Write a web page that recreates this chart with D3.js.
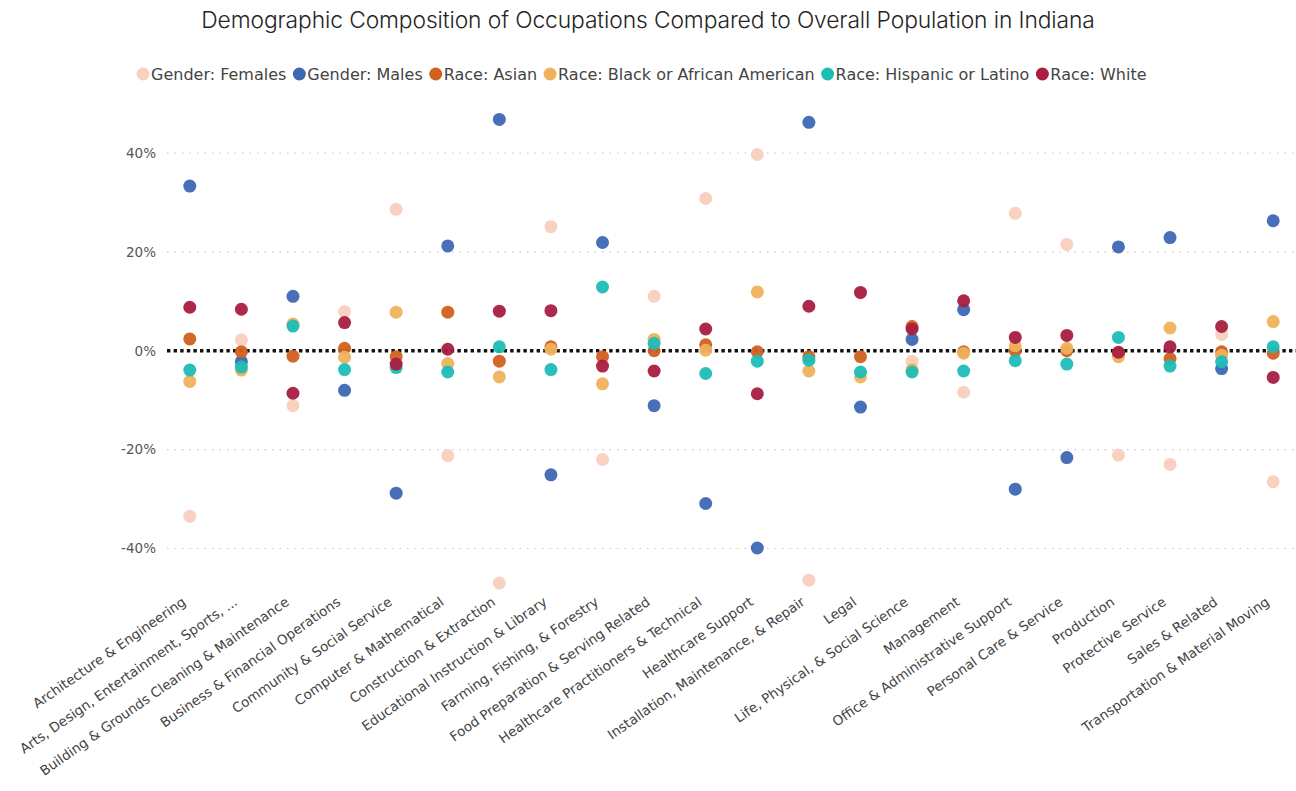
<!DOCTYPE html>
<html>
<head>
<meta charset="utf-8">
<script src="https://cdn.jsdelivr.net/npm/d3@7"></script>
<style>
  body { margin: 0; background: #fff; }
  svg { display: block; }
</style>
</head>
<body>
<svg id="chart"></svg>
<script>
// occupation categories (x axis)
const categories = [
  "Architecture & Engineering",
  "Arts, Design, Entertainment, Sports, ...",
  "Building & Grounds Cleaning & Maintenance",
  "Business & Financial Operations",
  "Community & Social Service",
  "Computer & Mathematical",
  "Construction & Extraction",
  "Educational Instruction & Library",
  "Farming, Fishing, & Forestry",
  "Food Preparation & Serving Related",
  "Healthcare Practitioners & Technical",
  "Healthcare Support",
  "Installation, Maintenance, & Repair",
  "Legal",
  "Life, Physical, & Social Science",
  "Management",
  "Office & Administrative Support",
  "Personal Care & Service",
  "Production",
  "Protective Service",
  "Sales & Related",
  "Transportation & Material Moving"
];

const seriesNames = [
  "Gender: Females", "Gender: Males", "Race: Asian",
  "Race: Black or African American", "Race: Hispanic or Latino", "Race: White"
];
const seriesColors = ["#f9cfbd", "#3d68b4", "#d2601f", "#efb25c", "#1dbdb7", "#a91e41"];

// difference vs overall population, percentage points
const females  = [-33.5, 2.2, -11.1, 7.9, 28.6, -21.2, -47.0, 25.1, -22.0, 11.0, 30.8, 39.7, -46.4, 11.7, -2.1, -8.4, 27.8, 21.5, -21.1, -23.0, 3.3, -26.5];
const males    = [33.3, -2.2, 11.0, -8.0, -28.8, 21.2, 46.8, -25.1, 21.9, -11.1, -30.9, -39.9, 46.2, -11.4, 2.3, 8.3, -28.0, -21.6, 21.0, 22.9, -3.6, 26.3];
const asian    = [2.4, -0.2, -1.1, 0.5, -1.2, 7.8, -2.1, 0.8, -1.2, 0.0, 1.2, -0.2, -1.2, -1.2, 4.9, -0.2, 0.0, 0.0, -0.5, -1.6, -0.2, -0.5];
const black    = [-6.2, -3.9, 5.4, -1.3, 7.8, -2.6, -5.3, 0.3, -6.7, 2.3, 0.1, 11.9, -4.1, -5.3, -3.8, -0.5, 1.0, 0.5, -1.2, 4.6, -0.9, 5.9];
const hispanic = [-3.9, -3.3, 5.0, -3.8, -3.4, -4.3, 0.8, -3.8, 12.9, 1.5, -4.6, -2.1, -1.9, -4.3, -4.3, -4.1, -2.0, -2.7, 2.7, -3.1, -2.2, 0.8];
const white    = [8.8, 8.4, -8.6, 5.7, -2.7, 0.3, 8.0, 8.1, -3.1, -4.1, 4.4, -8.7, 9.0, 11.8, 4.4, 10.1, 2.7, 3.1, -0.3, 0.8, 4.9, -5.4];

const seriesValues = [females, males, asian, black, hispanic, white];
const yTicks = [-40, -20, 0, 20, 40];

const width = 1296, height = 791;
const svg = d3.select("#chart").attr("width", width).attr("height", height);

// title
svg.append("text")
  .attr("x", 648).attr("y", 28)
  .attr("text-anchor", "middle")
  .style("font-family", "Inter, 'Noto Sans', sans-serif")
  .style("font-weight", 300)
  .style("font-size", "22.8px")
  .style("letter-spacing", "-0.1px")
  .attr("fill", "#252525")
  .text("Demographic Composition of Occupations Compared to Overall Population in Indiana");

// legend
const legend = svg.append("g").attr("transform", "translate(143,74)");
let lx = 0;
seriesNames.forEach((name, i) => {
  const g = legend.append("g").attr("transform", `translate(${lx},0)`);
  g.append("circle").attr("r", 6.5).attr("fill", seriesColors[i]);
  const t = g.append("text")
    .attr("x", 8).attr("y", 5.5)
    .style("font-family", "'DejaVu Sans', Verdana, sans-serif")
    .style("font-size", "16px")
    .attr("fill", "#444")
    .text(name);
  lx += 8 + t.node().getComputedTextLength() + 13;
});

// scales
const x = d3.scaleBand().domain(categories).range([164, 1299]);
const y = d3.scaleLinear().domain([-40, 40]).range([548.5, 153]);

// gridlines
svg.append("g").selectAll("line")
  .data(yTicks.filter(d => d !== 0))
  .join("line")
    .attr("x1", 167).attr("x2", width)
    .attr("y1", d => y(d)).attr("y2", d => y(d))
    .attr("stroke", "#c8c8c8")
    .attr("stroke-width", 1.2)
    .attr("stroke-dasharray", "1.5,6");

// y axis labels
const yAxis = svg.append("g")
  .attr("transform", "translate(156,0)")
  .call(d3.axisLeft(y).tickValues(yTicks).tickSize(0).tickPadding(0).tickFormat(d => d + "%"));
yAxis.select(".domain").remove();
yAxis.selectAll("text")
  .style("font-family", "'DejaVu Sans', Verdana, sans-serif")
  .style("font-size", "13.5px")
  .attr("fill", "#555");

// zero line
svg.append("line")
  .attr("x1", 167).attr("x2", width)
  .attr("y1", y(0)).attr("y2", y(0))
  .attr("stroke", "#111")
  .attr("stroke-width", 3.4)
  .attr("stroke-dasharray", "3.4,3.2");

// x axis labels
const xAxis = svg.append("g")
  .attr("transform", "translate(0,590)")
  .call(d3.axisBottom(x).tickSize(0).tickPadding(0));
xAxis.select(".domain").remove();
xAxis.selectAll("text")
  .style("font-family", "'DejaVu Sans', Verdana, sans-serif")
  .style("font-size", "13.5px")
  .attr("fill", "#444")
  .attr("text-anchor", "end")
  .attr("dy", 0)
  .attr("transform", "translate(-3,14) rotate(-35)");

// dots
const points = [];
seriesValues.forEach((vals, s) => {
  vals.forEach((v, i) => points.push({ s, cat: categories[i], v }));
});

svg.append("g").selectAll("circle")
  .data(points)
  .join("circle")
    .attr("cx", d => x(d.cat) + x.bandwidth() / 2)
    .attr("cy", d => y(d.v))
    .attr("r", 6.5)
    .attr("fill", d => seriesColors[d.s])
    .attr("fill-opacity", 0.95);
</script>
</body>
</html>
